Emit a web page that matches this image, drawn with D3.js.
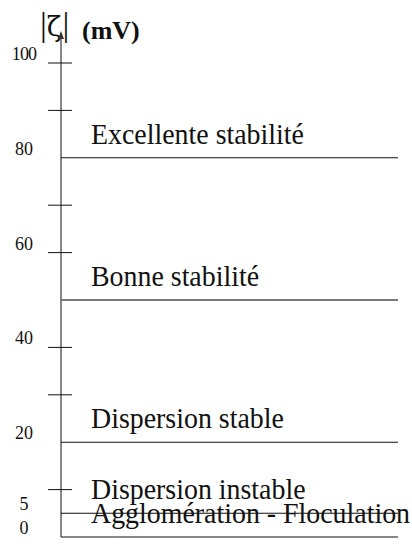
<!DOCTYPE html>
<html>
<head>
<meta charset="utf-8">
<script src="https://cdn.jsdelivr.net/npm/d3@7"></script>
<style>
  html, body { margin: 0; padding: 0; background: #fff; }
  svg { display: block; }
</style>
</head>
<body>
<div id="chart"></div>
<script>
// ---- data ----
const crossTicks = [100, 90, 70, 60, 40, 30, 10];
const boundaryValues = [80, 50, 20, 5, 0];
const labelValues = [100, 80, 60, 40, 20, 5, 0];
const labelTexts = ["100", "80", "60", "40", "20", "5", "0"];
const regionNames = ["Excellente stabilité", "Bonne stabilité", "Dispersion stable", "Dispersion instable", "Agglomération - Floculation"];
const regionLower = [80, 50, 20, 5, 0];
const titleBar = "|";
const titleSymbol = "ζ";
const titleUnit = "(mV)";

// ---- drawing ----
const W = 412, H = 544;
const axisX = 61, lineEnd = 398;
const svg = d3.select("#chart").append("svg").attr("width", W).attr("height", H);
const y = d3.scaleLinear().domain([0, 100]).range([537, 63]);
const serif = "'Liberation Serif', 'Times New Roman', serif";

// title
const t = svg.append("text").attr("x", 40).attr("y", 36)
  .attr("font-family", serif).attr("font-size", 34).attr("fill", "#111");
t.append("tspan").text(titleBar);
t.append("tspan").attr("font-family", "'DejaVu Serif', serif").attr("font-size", 27).attr("dx", 0).text(titleSymbol);
t.append("tspan").attr("dx", 1).text(titleBar);
svg.append("text").attr("x", 82).attr("y", 39)
  .attr("font-family", serif).attr("font-size", 26).attr("font-weight", "bold").attr("fill", "#111")
  .text(titleUnit);

// vertical axis with arrow
svg.append("line").attr("x1", axisX).attr("x2", axisX).attr("y1", 33).attr("y2", y(0))
  .attr("stroke", "#555").attr("stroke-width", 1.4);
svg.append("path").attr("d", `M${axisX},31 L${axisX - 3},39 L${axisX + 3},39 Z`).attr("fill", "#333");

// crossing ticks
svg.selectAll("line.tick").data(crossTicks).enter().append("line").attr("class", "tick")
  .attr("x1", 48).attr("x2", 72)
  .attr("y1", d => y(d)).attr("y2", d => y(d))
  .attr("stroke", "#111").attr("stroke-width", 1);

// boundary lines
svg.selectAll("line.bound").data(boundaryValues).enter().append("line").attr("class", "bound")
  .attr("x1", axisX).attr("x2", lineEnd)
  .attr("y1", d => y(d)).attr("y2", d => y(d))
  .attr("stroke", d => d === 50 ? "#777" : "#111")
  .attr("stroke-width", d => d === 50 ? 1.8 : 1.1);

// tick labels
svg.selectAll("text.lab").data(labelValues).enter().append("text").attr("class", "lab")
  .attr("x", 24).attr("y", d => y(d) - 3)
  .attr("text-anchor", "middle")
  .attr("font-family", serif).attr("font-size", 18).attr("fill", "#111")
  .attr("letter-spacing", (d, i) => labelTexts[i].length > 2 ? -0.8 : 0)
  .text((d, i) => labelTexts[i]);

// region labels
svg.selectAll("text.reg").data(regionNames).enter().append("text").attr("class", "reg")
  .attr("transform", (d, i) => `translate(91,${y(regionLower[i]) - 14}) scale(0.93,1)`)
  .attr("font-family", serif).attr("font-size", 30).attr("fill", "#111")
  .text(d => d);
</script>
</body>
</html>
